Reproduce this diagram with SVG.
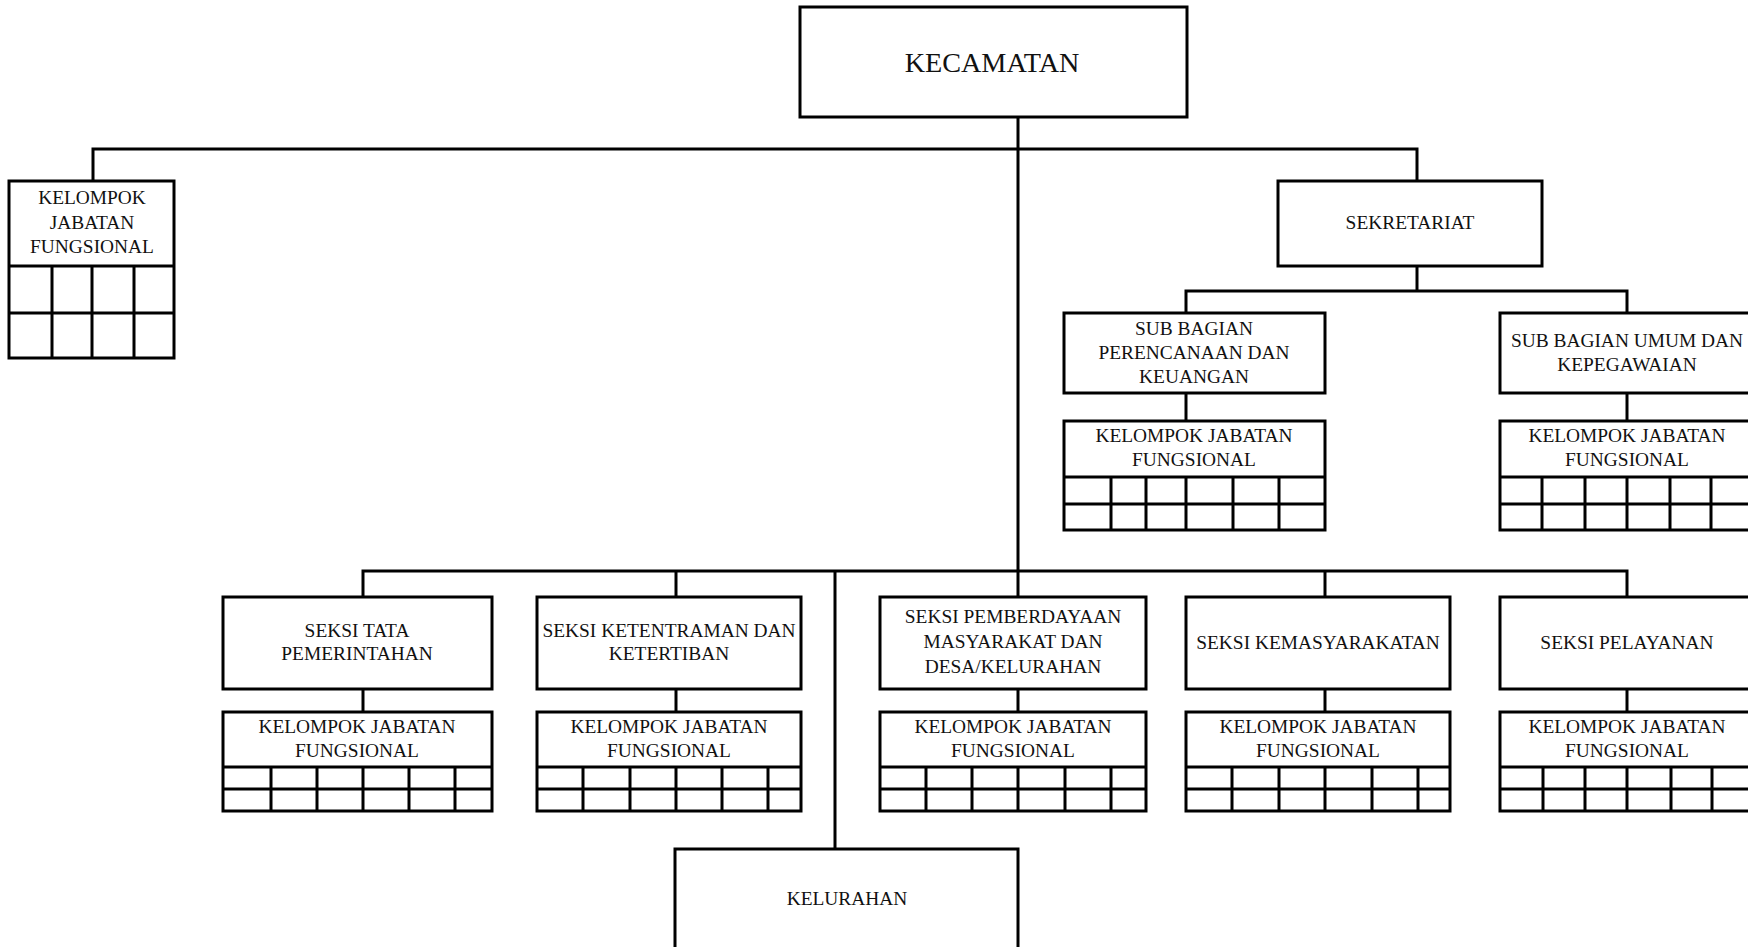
<svg xmlns="http://www.w3.org/2000/svg" width="1748" height="947" viewBox="0 0 1748 947">
<style>
  .box{fill:#fff;stroke:#000;stroke-width:3}
  .ln{stroke:#000;stroke-width:3;fill:none}
  .t{font-family:"Liberation Serif","Times New Roman",serif;font-size:19.4px;fill:#111;text-anchor:middle}
  .big{font-size:28.2px}
</style>
<rect width="1748" height="947" fill="#fff"/>
<g id="connectors" class="ln">
  <path d="M1018,117 V597"/>
  <path d="M93,181 V149 H1417 V181"/>
  <path d="M1417,266 V291"/>
  <path d="M1186,313 V291 H1627 V313"/>
  <path d="M1186,393 V421"/>
  <path d="M1627,393 V421"/>
  <path d="M363,597 V571 H1627 V597"/>
  <path d="M676,571 V597"/>
  <path d="M1325,571 V597"/>
  <path d="M835,571 V849"/>
  <path d="M363,689 V712"/>
  <path d="M676,689 V712"/>
  <path d="M1018,689 V712"/>
  <path d="M1325,689 V712"/>
  <path d="M1627,689 V712"/>
</g>
<g id="kecamatan">
  <rect class="box" x="800" y="7" width="387" height="110"/>
  <text class="t big" x="992" y="72">KECAMATAN</text>
</g>
<g id="kjf-kecamatan">
  <rect class="box" x="9" y="181" width="165" height="177"/>
  <path class="ln" d="M9,266 H174 M9,313 H174 M52,266 V358 M92,266 V358 M134,266 V358"/>
  <text class="t" x="92" y="204">KELOMPOK</text>
  <text class="t" x="92" y="229">JABATAN</text>
  <text class="t" x="92" y="253">FUNGSIONAL</text>
</g>
<g id="sekretariat">
  <rect class="box" x="1278" y="181" width="264" height="85"/>
  <text class="t" x="1410" y="229">SEKRETARIAT</text>
</g>
<g id="subbag-perencanaan">
  <rect class="box" x="1064" y="313" width="261" height="80"/>
  <text class="t" x="1194" y="335">SUB BAGIAN</text>
  <text class="t" x="1194" y="359">PERENCANAAN DAN</text>
  <text class="t" x="1194" y="383">KEUANGAN</text>
</g>
<g id="kjf-perencanaan">
  <rect class="box" x="1064" y="421" width="261" height="109"/>
  <path class="ln" d="M1064,477 H1325 M1064,504 H1325 M1111,477 V530 M1146,477 V530 M1186,477 V530 M1233,477 V530 M1279,477 V530"/>
  <text class="t" x="1194" y="442">KELOMPOK JABATAN</text>
  <text class="t" x="1194" y="466">FUNGSIONAL</text>
</g>
<g id="subbag-umum">
  <rect class="box" x="1500" y="313" width="254" height="80"/>
  <text class="t" x="1627" y="347">SUB BAGIAN UMUM DAN</text>
  <text class="t" x="1627" y="371">KEPEGAWAIAN</text>
</g>
<g id="kjf-umum">
  <rect class="box" x="1500" y="421" width="254" height="109"/>
  <path class="ln" d="M1500,477 H1754 M1500,504 H1754 M1542,477 V530 M1585,477 V530 M1627,477 V530 M1670,477 V530 M1711,477 V530"/>
  <text class="t" x="1627" y="442">KELOMPOK JABATAN</text>
  <text class="t" x="1627" y="466">FUNGSIONAL</text>
</g>
<g id="seksi-tata">
  <rect class="box" x="223" y="597" width="269" height="92"/>
  <text class="t" x="357" y="637">SEKSI TATA</text>
  <text class="t" x="357" y="660">PEMERINTAHAN</text>
</g>
<g id="kjf-tata">
  <rect class="box" x="223" y="712" width="269" height="99"/>
  <path class="ln" d="M223,767 H492 M223,789 H492 M271,767 V811 M317,767 V811 M363,767 V811 M409,767 V811 M455,767 V811"/>
  <text class="t" x="357" y="733">KELOMPOK JABATAN</text>
  <text class="t" x="357" y="757">FUNGSIONAL</text>
</g>
<g id="seksi-ketentraman">
  <rect class="box" x="537" y="597" width="264" height="92"/>
  <text class="t" x="669" y="637">SEKSI KETENTRAMAN DAN</text>
  <text class="t" x="669" y="660">KETERTIBAN</text>
</g>
<g id="kjf-ketentraman">
  <rect class="box" x="537" y="712" width="264" height="99"/>
  <path class="ln" d="M537,767 H801 M537,789 H801 M583,767 V811 M630,767 V811 M676,767 V811 M722,767 V811 M768,767 V811"/>
  <text class="t" x="669" y="733">KELOMPOK JABATAN</text>
  <text class="t" x="669" y="757">FUNGSIONAL</text>
</g>
<g id="seksi-pemberdayaan">
  <rect class="box" x="880" y="597" width="266" height="92"/>
  <text class="t" x="1013" y="623">SEKSI PEMBERDAYAAN</text>
  <text class="t" x="1013" y="648">MASYARAKAT DAN</text>
  <text class="t" x="1013" y="673">DESA/KELURAHAN</text>
</g>
<g id="kjf-pemberdayaan">
  <rect class="box" x="880" y="712" width="266" height="99"/>
  <path class="ln" d="M880,767 H1146 M880,789 H1146 M926,767 V811 M972,767 V811 M1018,767 V811 M1065,767 V811 M1111,767 V811"/>
  <text class="t" x="1013" y="733">KELOMPOK JABATAN</text>
  <text class="t" x="1013" y="757">FUNGSIONAL</text>
</g>
<g id="seksi-kemasyarakatan">
  <rect class="box" x="1186" y="597" width="264" height="92"/>
  <text class="t" x="1318" y="649">SEKSI KEMASYARAKATAN</text>
</g>
<g id="kjf-kemasyarakatan">
  <rect class="box" x="1186" y="712" width="264" height="99"/>
  <path class="ln" d="M1186,767 H1450 M1186,789 H1450 M1232,767 V811 M1279,767 V811 M1325,767 V811 M1372,767 V811 M1418,767 V811"/>
  <text class="t" x="1318" y="733">KELOMPOK JABATAN</text>
  <text class="t" x="1318" y="757">FUNGSIONAL</text>
</g>
<g id="seksi-pelayanan">
  <rect class="box" x="1500" y="597" width="254" height="92"/>
  <text class="t" x="1627" y="649">SEKSI PELAYANAN</text>
</g>
<g id="kjf-pelayanan">
  <rect class="box" x="1500" y="712" width="254" height="99"/>
  <path class="ln" d="M1500,767 H1754 M1500,789 H1754 M1543,767 V811 M1585,767 V811 M1627,767 V811 M1671,767 V811 M1712,767 V811"/>
  <text class="t" x="1627" y="733">KELOMPOK JABATAN</text>
  <text class="t" x="1627" y="757">FUNGSIONAL</text>
</g>
<g id="kelurahan">
  <rect class="box" x="675" y="849" width="343" height="110"/>
  <text class="t" x="847" y="905">KELURAHAN</text>
</g>
</svg>
